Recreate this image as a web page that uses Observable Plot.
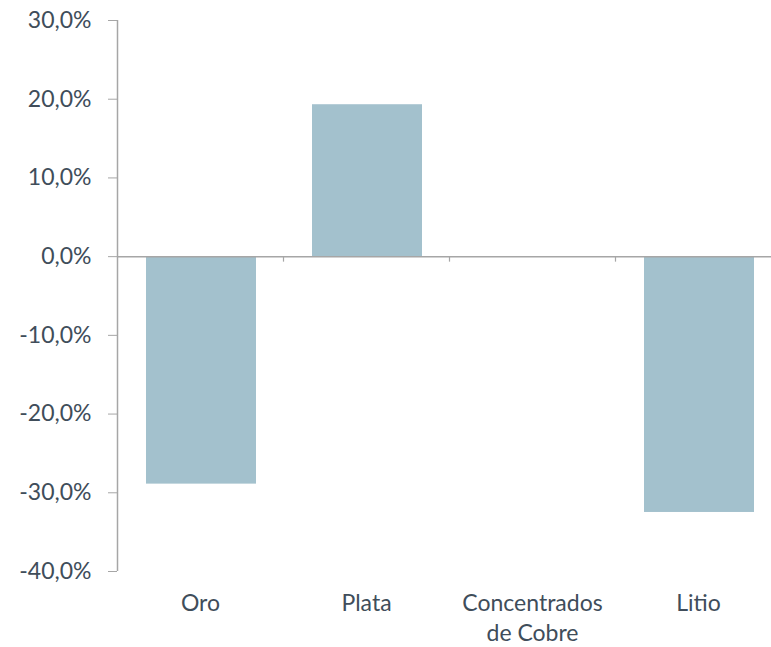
<!DOCTYPE html>
<html>
<head>
<meta charset="utf-8">
<script src="https://cdn.jsdelivr.net/npm/d3@7"></script>
<script src="https://cdn.jsdelivr.net/npm/@observablehq/plot@0.6"></script>
<style>
  html, body { margin: 0; padding: 0; background: #fff; }
</style>
</head>
<body>
<div id="chart"></div>
<script>
const categories = ["Oro", "Plata", "Concentrados\nde Cobre", "Litio"];
const values = [-28.9, 19.3, 0, -32.5];
const yTicks = [-40, -30, -20, -10, 0, 10, 20, 30];

const data = categories.map((c, i) => ({cat: c, v: values[i]}));
const textColor = "#404D5A";
const lineColor = "#A6A6A6";
const bandHalf = 83;

const chart = Plot.plot({
  width: 771,
  height: 647,
  marginTop: 20,
  marginLeft: 117,
  marginRight: 0,
  marginBottom: 76,
  style: {fontFamily: "Lato, sans-serif", fontSize: "23px", color: textColor, background: "#fff"},
  x: {domain: categories, range: [117, 781], padding: 0},
  y: {domain: [-40, 30]},
  marks: [
    Plot.barY(data, {x: "cat", y: "v", fill: "#A3C1CD", insetLeft: 29, insetRight: 27}),
    Plot.ruleY([0], {stroke: lineColor, strokeWidth: 1.5}),
    Plot.ruleX([categories[0]], {dx: -bandHalf, y1: -40, y2: 30, stroke: lineColor, strokeWidth: 1.5}),
    Plot.ruleX(categories.slice(0, 3), {x: d => d, dx: bandHalf, y1: 0, y2: -0.7, stroke: lineColor, strokeWidth: 1.2}),
    Plot.axisY({ticks: yTicks, tickSize: 9, tickPadding: 17, stroke: lineColor, fill: textColor,
      tickFormat: d => d.toFixed(1).replace(".", ",") + "%", label: null, fontSize: 23}),
    Plot.axisX({tickSize: 0, tickPadding: 18, fill: textColor, label: null, lineHeight: 1.3, fontSize: 23})
  ]
});
document.getElementById("chart").appendChild(chart);
</script>
</body>
</html>
